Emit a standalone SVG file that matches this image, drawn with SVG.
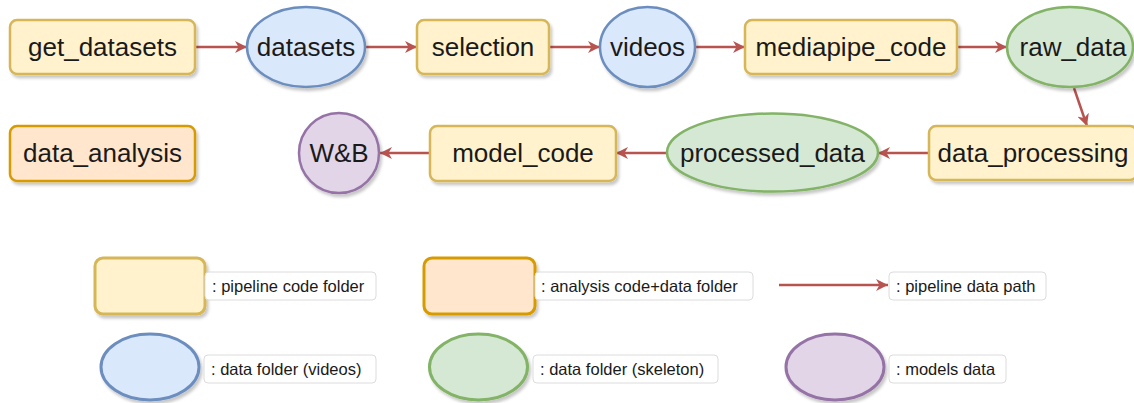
<svg xmlns="http://www.w3.org/2000/svg" width="1134" height="403" viewBox="0 0 1134 403">
<style>
text{font-family:"Liberation Sans",Arial,sans-serif;fill:#1a1a1a;text-anchor:middle;dominant-baseline:central}
.n{font-size:26px}
.l{font-size:16.5px;text-anchor:start}
.yel{fill:#fff2cc;stroke:#d6b656;stroke-width:2.5}
.org{fill:#ffe6cc;stroke:#d79b00;stroke-width:2.5}
.blu{fill:#dae8fc;stroke:#6c8ebf;stroke-width:2.5}
.grn{fill:#d5e8d4;stroke:#82b366;stroke-width:2.5}
.pur{fill:#e1d5e7;stroke:#9673a6;stroke-width:2.5}
.lg{stroke-width:3}
.box{fill:#fff;stroke:#dcdcdc;stroke-width:1}
.e{stroke:#b85450;stroke-width:2.5;fill:none;marker-end:url(#ah)}
.sh{filter:url(#ds)}
</style>
<defs>
<marker id="ah" markerUnits="userSpaceOnUse" markerWidth="14" markerHeight="12" refX="12" refY="6" orient="auto">
<path d="M0,0 L12,6 L0,12 L3.5,6 Z" fill="#b85450"/>
</marker>
<filter id="ds" x="-10%" y="-10%" width="130%" height="140%">
<feDropShadow dx="2" dy="3" stdDeviation="1.5" flood-color="#000" flood-opacity="0.22"/>
</filter>
</defs>
<rect width="1134" height="403" fill="#fff"/>
<g id="connectors">
<line class="e" x1="195" y1="47" x2="247" y2="47"/>
<line class="e" x1="365" y1="47" x2="417" y2="47"/>
<line class="e" x1="549" y1="47" x2="600" y2="47"/>
<line class="e" x1="695" y1="47" x2="745" y2="47"/>
<line class="e" x1="957" y1="47" x2="1007" y2="47"/>
<line class="e" x1="1074" y1="88" x2="1087" y2="126"/>
<line class="e" x1="929" y1="153" x2="878" y2="153"/>
<line class="e" x1="667" y1="153" x2="616" y2="153"/>
<line class="e" x1="430" y1="153" x2="380" y2="153"/>
</g>
<g id="get_datasets"><rect class="yel sh" x="10" y="20" width="185" height="54" rx="7"/><text class="n" x="102.5" y="47">get_datasets</text></g>
<g id="datasets"><ellipse class="blu sh" cx="306" cy="47" rx="59" ry="40"/><text class="n" x="306" y="47">datasets</text></g>
<g id="selection"><rect class="yel sh" x="417" y="20" width="132" height="54" rx="7"/><text class="n" x="483" y="47">selection</text></g>
<g id="videos"><ellipse class="blu sh" cx="647.5" cy="47" rx="47.5" ry="40"/><text class="n" x="647.5" y="47">videos</text></g>
<g id="mediapipe_code"><rect class="yel sh" x="745" y="20" width="212" height="54" rx="7"/><text class="n" x="851" y="47">mediapipe_code</text></g>
<g id="raw_data"><ellipse class="grn sh" cx="1070" cy="47" rx="63" ry="40"/><text class="n" x="1073" y="47">raw_data</text></g>
<g id="data_processing"><rect class="yel sh" x="929" y="126" width="208" height="54" rx="7"/><text class="n" x="1033" y="153">data_processing</text></g>
<g id="processed_data"><ellipse class="grn sh" cx="772.5" cy="152.5" rx="105.5" ry="39"/><text class="n" x="772.5" y="153">processed_data</text></g>
<g id="model_code"><rect class="yel sh" x="430" y="126" width="186" height="55" rx="7"/><text class="n" x="523" y="153">model_code</text></g>
<g id="wandb"><circle class="pur sh" cx="339" cy="153" r="40"/><text class="n" x="339" y="153">W&amp;B</text></g>
<g id="data_analysis"><rect class="org sh" x="10" y="126" width="185" height="55" rx="7"/><text class="n" x="102.5" y="153">data_analysis</text></g>
<g id="legend">
<rect class="yel lg sh" x="95" y="258" width="110" height="56" rx="8"/>
<rect class="box" x="205" y="272" width="171" height="28" rx="4"/><text class="l" x="212" y="286">: pipeline code folder</text>
<rect class="org lg sh" x="424" y="258" width="111" height="56" rx="8"/>
<rect class="box" x="535" y="272" width="218" height="28" rx="4"/><text class="l" x="541" y="286">: analysis code+data folder</text>
<line class="e" x1="779" y1="285" x2="888" y2="285"/>
<rect class="box" x="889" y="272" width="157" height="28" rx="4"/><text class="l" x="896" y="286">: pipeline data path</text>
<ellipse class="blu lg sh" cx="150" cy="367" rx="49" ry="33"/>
<rect class="box" x="204" y="355" width="172" height="28" rx="4"/><text class="l" x="211" y="369">: data folder (videos)</text>
<ellipse class="grn lg sh" cx="478.5" cy="367" rx="49" ry="33"/>
<rect class="box" x="533" y="355" width="185" height="28" rx="4"/><text class="l" x="540" y="369">: data folder (skeleton)</text>
<ellipse class="pur lg sh" cx="835" cy="367" rx="49" ry="33"/>
<rect class="box" x="889" y="355" width="117" height="28" rx="4"/><text class="l" x="896" y="369">: models data</text>
</g>
</svg>
